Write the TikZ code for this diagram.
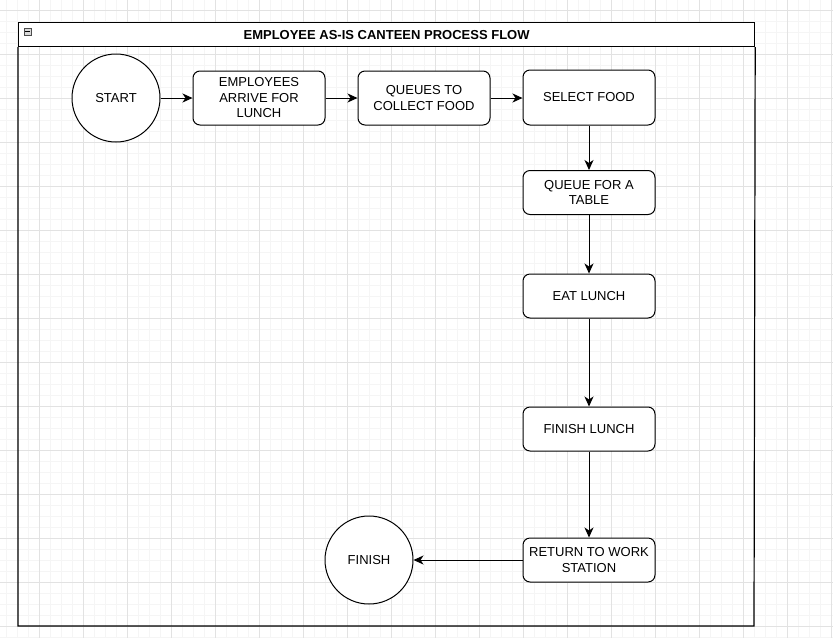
\documentclass[tikz,border=0pt]{standalone}
\usepackage{fontspec}
\setmainfont{Liberation Sans}
\usetikzlibrary{arrows.meta}
\definecolor{gridminor}{HTML}{F5F5F5}
\definecolor{gridmajor}{HTML}{E2E2E2}
\tikzset{
  x=1pt, y=-1pt,
  minorline/.style={draw=gridminor, line width=0.7pt},
  majorline/.style={draw=gridmajor, line width=0.8pt},
  procbox/.style={draw=black, fill=white, line width=1pt, rounded corners=7pt,
    minimum width=132pt, minimum height=44pt, align=center, inner sep=2pt,
    font=\fontsize{13}{15.5}\selectfont},
  termcircle/.style={draw=black, fill=white, line width=1pt, circle,
    minimum size=88pt, inner sep=0pt, font=\fontsize{13}{15.5}\selectfont},
  flow/.style={draw=black, line width=1pt, -{Stealth[length=10pt,width=9pt,inset=3pt]}},
}
\begin{document}
\begin{tikzpicture}
\useasboundingbox (0,0) rectangle (833,638);
\fill[white] (0,0) rectangle (833,638);
% grid
\foreach \v in {6,17,...,833} {\draw[minorline] (\v,0) -- (\v,638);}
\foreach \v in {10,21,...,638} {\draw[minorline] (0,\v) -- (833,\v);}
\foreach \v in {39,83,...,833} {\draw[majorline] (\v,0) -- (\v,638);}
\foreach \v in {10,54,...,638} {\draw[majorline] (0,\v) -- (833,\v);}
% container
\node[draw=black, fill=white, line width=1.2pt, minimum width=736pt, minimum height=24pt,
  inner sep=0pt, anchor=north west, font=\fontsize{13}{15}\selectfont\bfseries]
  (header) at (18,22) {EMPLOYEE AS-IS CANTEEN PROCESS FLOW};
\draw[black, line width=1.2pt] (header.south west) -- (18,626) -- (754,626) -- (header.south east);
\node[draw=black!70, fill=black!15, line width=0.6pt, minimum size=7pt, inner sep=0pt]
  (collapse) at (27.5,31.5) {};
\draw[black, line width=0.8pt] ([xshift=1.5pt]collapse.west) -- ([xshift=-1.5pt]collapse.east);
% nodes
\node[termcircle] (start) at (116,98) {START};
\node[procbox, minimum height=54pt] (arrive) at (259,98) {EMPLOYEES\\ARRIVE FOR\\LUNCH};
\node[procbox, minimum height=54pt] (queues) at (424,98) {QUEUES TO\\COLLECT FOOD};
\node[procbox, minimum height=55pt] (select) at (589,97.5) {SELECT FOOD};
\node[procbox] (table) at (589,192.5) {QUEUE FOR A\\TABLE};
\node[procbox] (eat) at (589,296) {EAT LUNCH};
\node[procbox] (finlunch) at (589,429) {FINISH LUNCH};
\node[procbox] (return) at (589,560) {RETURN TO WORK\\STATION};
\node[termcircle] (finish) at (369,560) {FINISH};
% connectors
\draw[flow] (start) -- (arrive);
\draw[flow] (arrive) -- (queues);
\draw[flow] (queues.east) -- (select.west |- queues.east);
\draw[flow] (select) -- (table);
\draw[flow] (table) -- (eat);
\draw[flow] (eat) -- (finlunch);
\draw[flow] (finlunch) -- (return);
\draw[flow] (return) -- (finish);
\end{tikzpicture}
\end{document}
